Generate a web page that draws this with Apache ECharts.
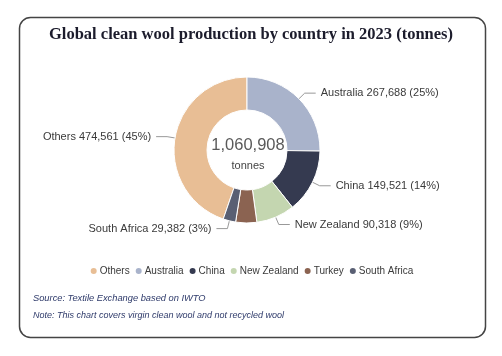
<!DOCTYPE html>
<html>
<head>
<meta charset="utf-8">
<script src="https://cdn.jsdelivr.net/npm/echarts@6/dist/echarts.min.js"></script>
<style>
html,body{margin:0;padding:0;background:#fff;}
#c{width:502px;height:356px;}
</style>
</head>
<body>
<div id="c"></div>
<script>
const categories = ['Others', 'Australia', 'China', 'New Zealand', 'Turkey', 'South Africa'];
const values = [474561, 267688, 149521, 90318, 49438, 29382];
const percentLabels = ['45%', '25%', '14%', '9%', '5%', '3%'];
const showLabel = [true, true, true, true, false, true];
const totalText = '1,060,908';
const colors = ['#E8BE95', '#A9B3CB', '#353A50', '#C4D6B0', '#8B6351', '#595F73'];

const total = values.reduce((a, b) => a + b, 0);
const startAngle = 90 + values[0] / total * 360;

const chart = echarts.init(document.getElementById('c'), null, {renderer: 'canvas'});
const fmt = n => n.toLocaleString('en-US');

chart.setOption({
  animation: false,
  backgroundColor: '#fff',
  color: colors,
  title: {
    text: 'Global clean wool production by country in 2023 (tonnes)',
    left: 'center',
    top: 21,
    textStyle: {fontFamily: 'Liberation Serif', fontWeight: 'bold', fontSize: 16.5, color: '#1c1c2c'}
  },
  legend: {
    data: categories,
    left: 'center',
    top: 261,
    icon: 'circle',
    itemWidth: 8,
    itemHeight: 8,
    itemGap: 4,
    textStyle: {fontFamily: 'Liberation Sans', fontSize: 10, color: '#3a3a3a', padding: [0, 0, 0, -3]}
  },
  graphic: [
    {type: 'rect', left: 17, top: 15, shape: {width: 466, height: 320, r: 11}, style: {fill: 'none', stroke: '#444', lineWidth: 1.5}, z: -1},
    {type: 'text', left: 33, top: 294, style: {text: 'Source: Textile Exchange based on IWTO', fontFamily: 'Liberation Sans', fontStyle: 'italic', fontSize: 9.3, fill: '#2e3a6a'}},
    {type: 'text', left: 33, top: 311, style: {text: 'Note: This chart covers virgin clean wool and not recycled wool', fontFamily: 'Liberation Sans', fontStyle: 'italic', fontSize: 9, fill: '#2e3a6a'}},
    {type: 'text', x: 248, y: 145, z: 100, style: {text: totalText, align: 'center', verticalAlign: 'middle', fontFamily: 'Liberation Sans', fontSize: 16.5, fill: '#5a5a5a'}},
    {type: 'text', x: 248, y: 166, z: 100, style: {text: 'tonnes', align: 'center', verticalAlign: 'middle', fontFamily: 'Liberation Sans', fontSize: 11, fill: '#444'}}
  ],
  series: [{
    type: 'pie',
    center: [247, 150],
    radius: [40, 73],
    startAngle: startAngle,
    clockwise: true,
    avoidLabelOverlap: false,
    itemStyle: {borderColor: '#fff', borderWidth: 1},
    label: {
      show: true,
      fontFamily: 'Liberation Sans',
      fontSize: 11,
      color: '#3a3a3a',
      formatter: p => p.name + ' ' + fmt(p.value) + ' (' + percentLabels[p.dataIndex] + ')'
    },
    labelLine: {show: true, length: 8, length2: 11, lineStyle: {color: '#999', width: 1}},
    data: categories.map((c, i) => ({
      name: c, value: values[i],
      label: {show: showLabel[i]},
      labelLine: {show: showLabel[i]}
    }))
  }]
});
</script>
</body>
</html>
